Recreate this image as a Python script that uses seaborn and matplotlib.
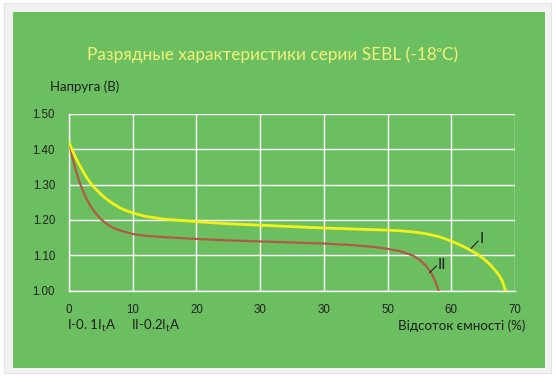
import matplotlib
matplotlib.use("Agg")
import matplotlib.pyplot as plt
import seaborn as sns
import pandas as pd
from matplotlib.patches import Rectangle

# ---- data ----
x_I = [0, 0.5, 1, 1.5, 2, 2.5, 3, 3.5, 4, 5, 6, 7, 8, 9, 10, 12, 15, 20, 25, 30, 35, 40, 45, 50,
       52, 54, 56, 58, 60, 62, 64, 65, 66, 67, 67.5, 68, 68.5]
y_I = [1.420, 1.398, 1.378, 1.360, 1.344, 1.328, 1.314, 1.302, 1.291, 1.273, 1.257, 1.245, 1.234, 1.226, 1.220,
       1.210, 1.202, 1.195, 1.189, 1.185, 1.181, 1.177, 1.174, 1.171,
       1.169, 1.166, 1.161, 1.153, 1.140, 1.124, 1.104, 1.091, 1.075, 1.055, 1.043, 1.027, 1.000]
x_II = [0, 0.5, 1, 1.5, 2, 2.5, 3, 3.5, 4, 5, 6, 7, 8, 10, 12, 15, 20, 25, 30, 35, 40, 45, 48, 50,
        52, 54, 55, 56, 56.5, 57, 57.5, 58]
y_II = [1.420, 1.379, 1.345, 1.315, 1.290, 1.269, 1.251, 1.236, 1.223, 1.202, 1.188, 1.177, 1.170, 1.160, 1.155,
        1.151, 1.146, 1.142, 1.139, 1.136, 1.133, 1.128, 1.123, 1.118,
        1.111, 1.099, 1.087, 1.070, 1.059, 1.045, 1.026, 1.000]
x_ticks = [0, 10, 20, 30, 40, 50, 60, 70]
x_tick_labels = ["0", "10", "20", "30", "30", "50", "60", "70"]
y_ticks = [1.00, 1.10, 1.20, 1.30, 1.40, 1.50]
y_tick_labels = ["1.00", "1.10", "1.20", "1.30", "1.40", "1.50"]
title = "Разрядные характеристики серии SEBL (-18ᵒC)"
y_title = "Напруга (В)"
x_title = "Відсоток ємності (%)"
legend_I = "I-0. 1I$_{\\mathregular{t}}$A"
legend_II = "II-0.2I$_{\\mathregular{t}}$A"

sns.set_theme(style="white")
plt.rcParams['font.family'] = ['Liberation Sans', 'DejaVu Sans']
TXT = ['Lato', 'DejaVu Sans']

W, H = 556, 383
fig = plt.figure(figsize=(W / 100, H / 100), dpi=100, facecolor="white")

def px(x0, y0, w, h):
    return (x0 / W, 1 - (y0 + h) / H, w / W, h / H)

# frame and green background
bx = fig.add_axes([0, 0, 1, 1], facecolor="none")
bx.set_xlim(0, W); bx.set_ylim(H, 0); bx.axis("off")
bx.add_patch(Rectangle((4, 3), 547, 370, facecolor="#f2f2f2", edgecolor="#e4e4e4", lw=0.8))
green = "#6bbf60"
bx.add_patch(Rectangle((13, 12), 532, 356, facecolor=green, edgecolor="none"))

ax = fig.add_axes(px(69, 114, 446, 176.5), facecolor="none")
df_I = pd.DataFrame({"x": x_I, "y": y_I})
df_II = pd.DataFrame({"x": x_II, "y": y_II})
sns.lineplot(data=df_I, x="x", y="y", ax=ax, color="#f2f21a", lw=2.0, sort=False, zorder=4)
sns.lineplot(data=df_II, x="x", y="y", ax=ax, color="#b05a45", lw=1.6, sort=False, zorder=3)

ax.set_xlim(0, 70)
ax.set_ylim(1.0, 1.5)
ax.set_xticks(x_ticks)
ax.set_xticklabels(x_tick_labels)
ax.set_yticks(y_ticks)
ax.set_yticklabels(y_tick_labels)
ax.grid(True, color="white", lw=1.0)
for s in ["top", "right"]:
    ax.spines[s].set_visible(False)
for s in ["left", "bottom"]:
    ax.spines[s].set_color("white")
    ax.spines[s].set_linewidth(1.0)
ax.tick_params(axis="both", colors="white", length=0, labelcolor="#222222", labelsize=8.3)
ax.tick_params(axis="x", pad=10)
ax.tick_params(axis="y", pad=10)
ax.set_xlabel(""); ax.set_ylabel("")

# series labels with leader lines
ax.plot([63.1, 64.2], [1.119, 1.140], color="#222222", lw=0.8, zorder=5)
ax.text(64.5, 1.145, "I", fontsize=11, color="#222222", ha="left", va="center", family=TXT)
ax.plot([56.6, 57.7], [1.051, 1.070], color="#222222", lw=0.8, zorder=5)
ax.text(57.9, 1.073, "II", fontsize=11, color="#222222", ha="left", va="center", family=TXT)

fig.text(273 / W, 1 - 55 / H, title, ha="center", va="center", fontsize=12.4,
         color="#f2f278", family=TXT)
fig.text(50 / W, 1 - 87 / H, y_title, ha="left", va="center", fontsize=9.5,
         color="#1e1e1e", family=TXT)
fig.text(525 / W, 1 - 326 / H, x_title, ha="right", va="center", fontsize=9.6,
         color="#1e1e1e", family=TXT)
fig.text(67 / W, 1 - 326 / H, legend_I, ha="left", va="center", fontsize=9.5,
         color="#1e1e1e", family=TXT)
fig.text(131 / W, 1 - 326 / H, legend_II, ha="left", va="center", fontsize=9.5,
         color="#1e1e1e", family=TXT)

fig.savefig("out.png", dpi=100, facecolor="white")
